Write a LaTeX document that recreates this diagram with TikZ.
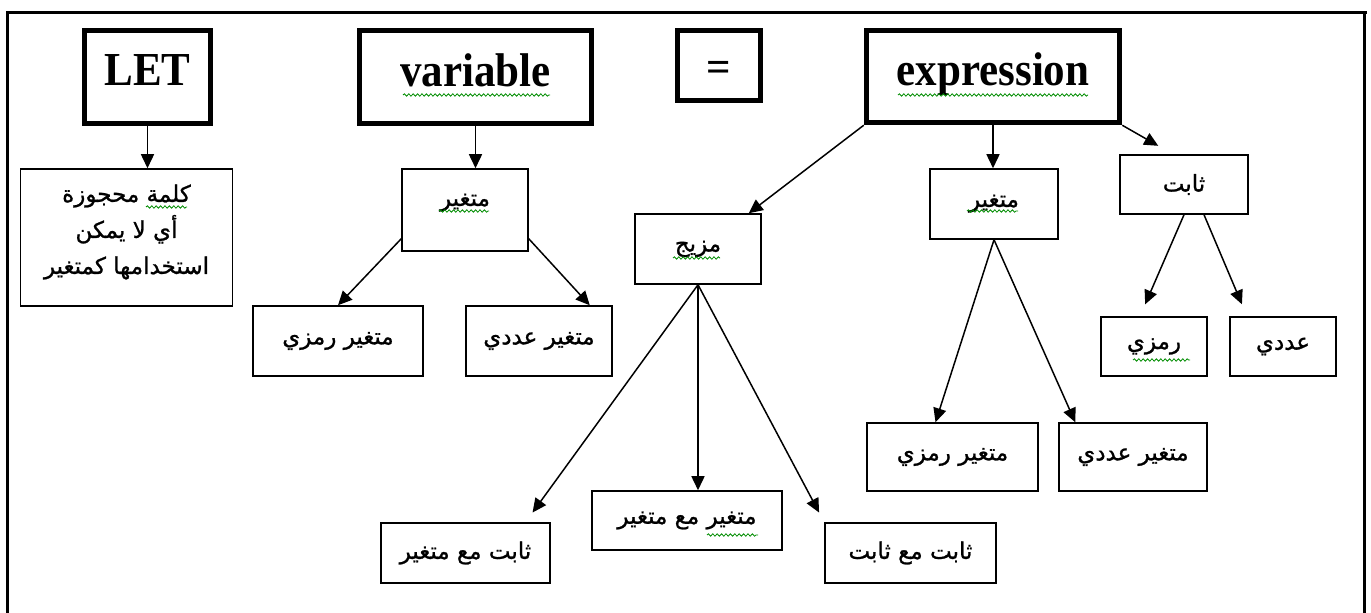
\documentclass[tikz,border=0pt]{standalone}
\usepackage{fontspec}
\setmainfont{Liberation Serif}
\newfontfamily\arabicfont[Script=Arabic, FakeBold=1]{DejaVu Sans}
\usetikzlibrary{arrows.meta, calc, decorations.pathmorphing}
\TeXXeTstate=1
\newcommand{\kw}[1]{\scalebox{1}[1.1]{#1}}

\tikzset{
  keyword/.style={draw, line width=2.75pt, inner sep=0pt, text height=15pt, text depth=5pt, font=\bfseries\fontsize{21.5}{26}\selectfont},
  item/.style={draw, line width=0.75pt, inner sep=0pt, align=center, font=\arabicfont\fontsize{11.5}{18}\selectfont},
  boxsize/.style 2 args={minimum width=#1*0.5pt, minimum height=#2*0.5pt},
  link/.style={-{Triangle[length=7pt, width=6.5pt]}, line width=0.75pt},
  squiggle/.style={green!55!black, line width=0.4pt, decorate, decoration={snake, amplitude=0.6pt, segment length=2.2pt}}
}

\begin{document}
\begin{tikzpicture}[x=0.5pt, y=-0.5pt]
    \useasboundingbox (0,0) rectangle (1371,613);

    % Frame
    \draw[line width=1.5pt] (7,613) -- (7,13) -- (1367,13);
    \draw[line width=1.5pt] (1364,13) -- (1364,613);

    % Statement: LET variable = expression
    \node[keyword, boxsize={126}{93}, text height=14pt, text depth=5pt] (let) at (147.5,77) {\kw{LET}};
    \node[keyword, boxsize={232}{93}] (var) at (475.5,77) {\kw{variable}};
    \node[keyword, boxsize={83}{70}, text height=16pt, text depth=0pt] (eq) at (719,65.5) {=};
    \node[keyword, boxsize={253}{92}, text height=14.5pt, text depth=5.5pt] (expr) at (993,76.5) {\kw{expression}};

    % Second row
    \node[item, boxsize={212}{137}] (reserved) at (126.5,237.5) {};
    \node[item, draw=none] (reservedtext) at (126.5,232)
        {\beginR كلمة محجوزة\endR\\\beginR أي لا يمكن\endR\\\beginR استخدامها كمتغير\endR};
    \node[item, boxsize={126}{82}, text height=9pt, text depth=13pt] (varsub) at (465,210) {\beginR متغير\endR};
    \node[item, boxsize={126}{70}] (mix) at (698,249) {\beginR مزيج\endR};
    \node[item, boxsize={128}{70}, text height=9pt, text depth=6pt] (exprvar) at (994,204) {\beginR متغير\endR};
    \node[item, boxsize={128}{59}] (const) at (1184,184.5) {\beginR ثابت\endR};

    % Third row
    \node[item, boxsize={170}{70}] (varsym) at (338,341) {\beginR متغير رمزي\endR};
    \node[item, boxsize={146}{70}] (varnum) at (539,341) {\beginR متغير عددي\endR};
    \node[item, boxsize={106}{59}] (csym) at (1154,346.5) {\beginR رمزي\endR};
    \node[item, boxsize={106}{59}] (cnum) at (1283,346.5) {\beginR عددي\endR};
    \node[item, boxsize={171}{68}] (evsym) at (952.5,457) {\beginR متغير رمزي\endR};
    \node[item, boxsize={148}{68}] (evnum) at (1133,457) {\beginR متغير عددي\endR};

    % Mixed cases
    \node[item, boxsize={169}{60}] (cv) at (465.5,553) {\beginR ثابت مع متغير\endR};
    \node[item, boxsize={190}{59}] (vv) at (687,520.5) {\beginR متغير مع متغير\endR};
    \node[item, boxsize={171}{60}] (cc) at (910.5,553) {\beginR ثابت مع ثابت\endR};

    % Arrows
    \draw[link] (let.south) -- (let.south |- reserved.north);
    \draw[link] (var.south) -- (var.south |- varsub.north);
    \draw[link] ($(varsub.south west)+(0,-13)$) -- (varsym.north);
    \draw[link] ($(varsub.south east)+(0,-13)$) -- ($(varnum.north east)+(-23,0)$);
    \draw[link] (expr.south west) -- ($(mix.north east)+(-13,0)$);
    \draw[link] (expr.south) -- (expr.south |- exprvar.north);
    \draw[link, shorten >=8.5pt] (expr.south east) -- ($(const.north)+(-11,0)$);
    \draw[link, shorten >=6.5pt] (const.south) -- ($(csym.north)+(-14,0)$);
    \draw[link, shorten >=6.5pt] ($(const.south)+(20,0)$) -- ($(cnum.north)+(-36,0)$);
    \draw[link, shorten >=6pt] (mix.south) -- ($(cv.north)+(60,0)$);
    \draw[link] (mix.south) -- (mix.south |- vv.north);
    \draw[link, shorten >=5.5pt] (mix.south) -- (cc.north west);
    \draw[link] (exprvar.south) -- ($(evsym.north)+(-17,0)$);
    \draw[link] (exprvar.south) -- ($(evnum.north west)+(17,0)$);

    % Spelling marks
    \draw[squiggle] (403,95) -- (550,95);
    \draw[squiggle] (898,95) -- (1088,95);
    \draw[squiggle] (146,207) -- (187,207);
    \draw[squiggle] (439,211) -- (489,211);
    \draw[squiggle] (673,258) -- (720,258);
    \draw[squiggle] (967,211) -- (1018,211);
    \draw[squiggle] (1133,360) -- (1190,360);
    \draw[squiggle] (707,535) -- (758,535);
\end{tikzpicture}
\end{document}
